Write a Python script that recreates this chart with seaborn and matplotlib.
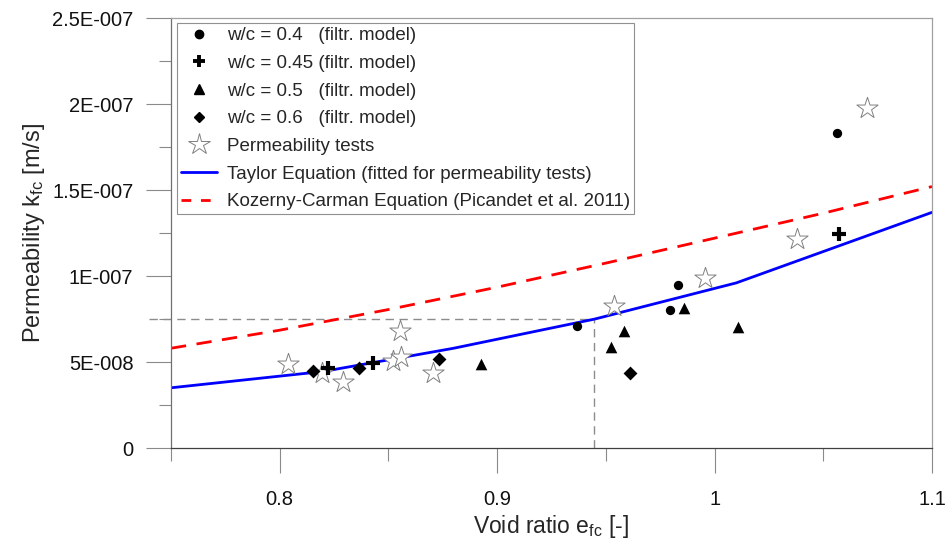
import matplotlib
matplotlib.use("Agg")
import matplotlib.pyplot as plt
from matplotlib.lines import Line2D
import numpy as np
import pandas as pd
import seaborn as sns

# ---- data ----
wc04_x = [0.9366, 0.9794, 0.9832, 1.0565]
wc04_y = [7.11e-8, 8.02e-8, 9.48e-8, 18.30e-8]

wc045_x = [0.8220, 0.8428, 1.0574]
wc045_y = [4.63e-8, 4.96e-8, 12.44e-8]

wc05_x = [0.8924, 0.9524, 0.9583, 0.9860, 1.0110]
wc05_y = [4.88e-8, 5.85e-8, 6.82e-8, 8.12e-8, 7.05e-8]

wc06_x = [0.8154, 0.8366, 0.8734, 0.9613]
wc06_y = [4.48e-8, 4.67e-8, 5.16e-8, 4.38e-8]

test_x = [0.8038, 0.8193, 0.8292, 0.8551, 0.8523, 0.8557, 0.8703, 0.9537, 0.9955, 1.0379, 1.0702]
test_y = [4.87e-8, 4.34e-8, 3.85e-8, 6.80e-8, 5.06e-8, 5.27e-8, 4.34e-8, 8.26e-8, 9.87e-8, 12.13e-8, 19.75e-8]

taylor_x = [0.75, 0.82, 0.88, 0.945, 1.01, 1.10]
taylor_y = [3.50e-8, 4.45e-8, 5.80e-8, 7.50e-8, 9.60e-8, 13.70e-8]

kc_x = [0.75, 0.80, 0.85, 0.90, 0.95, 1.00, 1.05, 1.10]
kc_y = [5.80e-8, 6.85e-8, 8.05e-8, 9.35e-8, 10.75e-8, 12.20e-8, 13.65e-8, 15.20e-8]

guide_x = 0.9445
guide_y = 7.5e-8

x_ticks = [0.8, 0.9, 1.0, 1.1]
x_tick_labels = ["0.8", "0.9", "1", "1.1"]
y_ticks = [0, 5e-8, 1e-7, 1.5e-7, 2e-7, 2.5e-7]
y_tick_labels = ["0", "5E-008", "1E-007", "1.5E-007", "2E-007", "2.5E-007"]

labels = ["w/c = 0.4   (filtr. model)",
          "w/c = 0.45 (filtr. model)",
          "w/c = 0.5   (filtr. model)",
          "w/c = 0.6   (filtr. model)",
          "Permeability tests",
          "Taylor Equation (fitted for permeability tests)",
          "Kozerny-Carman Equation (Picandet et al. 2011)"]

# ---- style ----
sns.set_style("ticks")
plt.rcParams['font.family'] = ['Liberation Sans', 'DejaVu Sans']
plt.rcParams['mathtext.fontset'] = 'custom'
plt.rcParams['mathtext.rm'] = 'Liberation Sans'
plt.rcParams['mathtext.it'] = 'Liberation Sans'

fig = plt.figure(figsize=(9.46, 5.41), dpi=100)
ax = fig.add_axes([171/946, 1-448/541, (932-171)/946, (448-18)/541])

# guide lines
ax.plot([0.74, guide_x], [guide_y, guide_y], color="#8c8c8c", lw=1.0,
        dashes=(6, 4), zorder=1, clip_on=False, label="_nolegend_")
ax.plot([guide_x, guide_x], [0, guide_y], color="#8c8c8c", lw=1.0,
        dashes=(6, 4), zorder=1, label="_nolegend_")

# lines
sns.lineplot(x=taylor_x, y=taylor_y, ax=ax, color="#0000ff", lw=2.0,
             zorder=2, label="_nolegend_")
sns.lineplot(x=kc_x, y=kc_y, ax=ax, color="#ff0000", lw=2.0,
             linestyle=(0, (5.5, 3.8)), zorder=2, label="_nolegend_")

# scatter
sns.scatterplot(x=test_x, y=test_y, ax=ax, marker="*", s=260,
                facecolor="white", edgecolor="#808080", linewidth=0.7,
                zorder=3, label="_nolegend_")
sns.scatterplot(x=wc04_x, y=wc04_y, ax=ax, marker="o", s=45, color="black",
                edgecolor="black", linewidth=0, zorder=4, label="_nolegend_")
sns.scatterplot(x=wc045_x, y=wc045_y, ax=ax, marker="+", s=110, color="black",
                linewidth=3.0, zorder=4, label="_nolegend_")
sns.scatterplot(x=wc05_x, y=wc05_y, ax=ax, marker="^", s=70, color="black",
                edgecolor="black", linewidth=0, zorder=4, label="_nolegend_")
sns.scatterplot(x=wc06_x, y=wc06_y, ax=ax, marker="D", s=50, color="black",
                edgecolor="black", linewidth=0, zorder=4, label="_nolegend_")

ax.set_xlim(0.75, 1.1)
ax.set_ylim(0, 2.5e-7)
ax.set_xticks(x_ticks)
ax.set_xticklabels(x_tick_labels)
ax.set_xticks([0.75, 0.85, 0.95, 1.05], minor=True)
ax.set_yticks(y_ticks)
ax.set_yticklabels(y_tick_labels)
ax.set_yticks([2.5e-8, 7.5e-8, 1.25e-7, 1.75e-7, 2.25e-7], minor=True)

ax.tick_params(axis="both", which="major", length=18, width=0.8, color="#8a8a8a",
               labelsize=14.5, labelcolor="#111111")
ax.tick_params(axis="y", which="major", pad=9)
ax.tick_params(axis="x", which="major", pad=12)
ax.tick_params(axis="both", which="minor", length=9, width=0.8, color="#8a8a8a")

for s in ["top", "right"]:
    ax.spines[s].set_color("#a0a0a0")
    ax.spines[s].set_linewidth(0.9)
ax.spines["left"].set_color("#707070")
ax.spines["bottom"].set_color("#404040")
ax.spines["left"].set_linewidth(0.9)
ax.spines["bottom"].set_linewidth(0.9)

ax.set_xlabel(r"Void ratio e$_{\mathrm{fc}}$ [-]", fontsize=16.5, labelpad=3)
ax.set_ylabel(r"Permeability k$_{\mathrm{fc}}$ [m/s]", fontsize=17, labelpad=4)

handles = [
    Line2D([], [], ls="none", marker="o", color="black", markersize=6),
    Line2D([], [], ls="none", marker="+", color="black", markersize=8, markeredgewidth=2.8),
    Line2D([], [], ls="none", marker="^", color="black", markersize=7),
    Line2D([], [], ls="none", marker="D", color="black", markersize=5.5),
    Line2D([], [], ls="none", marker="*", markerfacecolor="white",
           markeredgecolor="#808080", markeredgewidth=0.7, markersize=16),
    Line2D([], [], color="#0000ff", lw=2.0),
    Line2D([], [], color="#ff0000", lw=2.0, linestyle=(0, (3.5, 3.5))),
]
leg = ax.legend(handles, labels, loc="upper left", bbox_to_anchor=(0.008, 0.988),
                borderaxespad=0, fontsize=13.5, frameon=True, fancybox=False,
                edgecolor="#909090", framealpha=1, handlelength=1.9,
                handletextpad=0.55, labelspacing=0.56, borderpad=0.22)
leg.get_frame().set_linewidth(0.8)

fig.savefig("out.png", dpi=100)
